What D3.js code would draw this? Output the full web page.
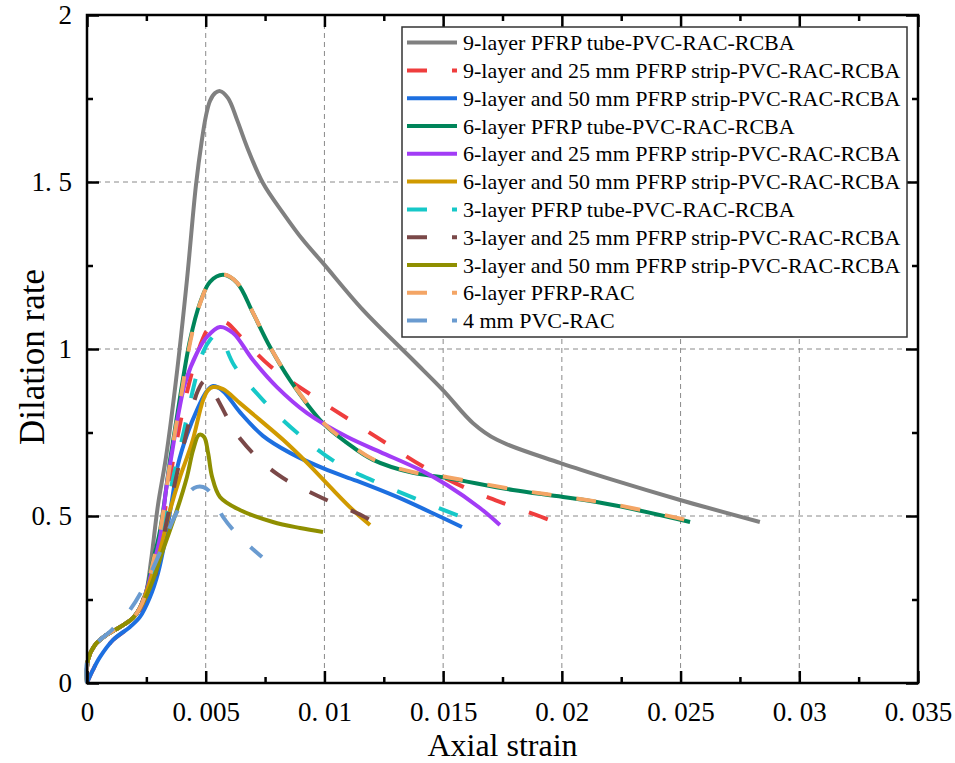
<!DOCTYPE html>
<html>
<head>
<meta charset="utf-8">
<script src="https://cdn.jsdelivr.net/npm/d3@7/dist/d3.min.js"></script>
<style>
  html, body { margin: 0; padding: 0; background: #fff; }
  svg { display: block; }
  text { font-family: "Liberation Serif", "Times New Roman", serif; fill: #000; }
</style>
</head>
<body>
<svg id="chart" width="955" height="763"></svg>
<script>
// Axis ticks and labels
const xTicks = [0, 0.005, 0.01, 0.015, 0.02, 0.025, 0.03, 0.035];
const xTickLabels = ["0", "0. 005", "0. 01", "0. 015", "0. 02", "0. 025", "0. 03", "0. 035"];
const xMinorTicks = [0.0025, 0.0075, 0.0125, 0.0175, 0.0225, 0.0275, 0.0325];
const yTicks = [0, 0.5, 1, 1.5, 2];
const yTickLabels = ["0", "0. 5", "1", "1. 5", "2"];
const yMinorTicks = [0.25, 0.75, 1.25, 1.75];

// Series names (legend order)
const seriesNames = [
  "9-layer PFRP tube-PVC-RAC-RCBA",
  "9-layer and 25 mm PFRP strip-PVC-RAC-RCBA",
  "9-layer and 50 mm PFRP strip-PVC-RAC-RCBA",
  "6-layer PFRP tube-PVC-RAC-RCBA",
  "6-layer and 25 mm PFRP strip-PVC-RAC-RCBA",
  "6-layer and 50 mm PFRP strip-PVC-RAC-RCBA",
  "3-layer PFRP tube-PVC-RAC-RCBA",
  "3-layer and 25 mm PFRP strip-PVC-RAC-RCBA",
  "3-layer and 50 mm PFRP strip-PVC-RAC-RCBA",
  "6-layer PFRP-RAC",
  "4 mm PVC-RAC"
];

// [axial strain, dilation rate]
const tube9 = [[0,0],[0.00004,0.069],[0.00034,0.114],[0.00076,0.141],[0.00118,0.159],[0.0016,0.177],[0.00194,0.195],[0.00223,0.225],[0.00249,0.272],[0.0027,0.368],[0.00299,0.533],[0.00333,0.677],[0.00375,0.907],[0.00421,1.207],[0.00459,1.491],[0.00484,1.626],[0.00501,1.698],[0.00518,1.743],[0.00539,1.766],[0.0056,1.772],[0.00594,1.751],[0.00632,1.686],[0.00674,1.605],[0.00741,1.497],[0.00826,1.407],[0.0091,1.326],[0.00994,1.257],[0.01162,1.117],[0.01373,0.967],[0.01499,0.877],[0.01626,0.778],[0.01727,0.728],[0.01992,0.659],[0.02215,0.608],[0.02498,0.548],[0.02834,0.482]];
const strip9_25 = [[0,0],[0.00025,0.039],[0.00055,0.078],[0.0011,0.129],[0.0016,0.156],[0.00202,0.183],[0.00244,0.234],[0.00274,0.293],[0.00308,0.413],[0.00341,0.578],[0.00371,0.698],[0.00404,0.817],[0.00447,0.943],[0.00489,1.033],[0.00518,1.069],[0.00552,1.084],[0.0059,1.078],[0.00644,1.039],[0.00771,0.949],[0.00939,0.865],[0.01108,0.787],[0.01264,0.716],[0.01419,0.647],[0.01613,0.578],[0.01786,0.53],[0.01967,0.482],[0.02005,0.467]];
const strip9_50 = [[0,0],[0.00025,0.039],[0.00055,0.078],[0.0011,0.129],[0.00181,0.168],[0.00223,0.198],[0.00265,0.257],[0.00299,0.329],[0.00329,0.428],[0.00358,0.548],[0.00383,0.653],[0.00421,0.743],[0.00463,0.817],[0.00505,0.874],[0.00531,0.889],[0.00573,0.874],[0.00644,0.811],[0.00741,0.74],[0.00855,0.689],[0.01011,0.638],[0.01137,0.605],[0.01306,0.557],[0.01445,0.512],[0.01579,0.467]];
const tube6 = [[0,0],[0.00004,0.069],[0.00034,0.114],[0.00076,0.141],[0.00118,0.159],[0.0016,0.177],[0.00194,0.195],[0.00223,0.225],[0.00249,0.272],[0.00274,0.353],[0.00308,0.458],[0.0035,0.668],[0.00392,0.856],[0.00434,1.027],[0.00476,1.138],[0.00518,1.201],[0.00573,1.222],[0.00632,1.198],[0.00699,1.108],[0.00771,1.006],[0.00855,0.907],[0.00994,0.778],[0.01095,0.719],[0.01205,0.668],[0.01373,0.629],[0.01516,0.614],[0.01794,0.578],[0.02005,0.557],[0.02215,0.533],[0.0254,0.482]];
const strip6_25 = [[0,0],[0.00004,0.069],[0.00034,0.114],[0.00076,0.141],[0.00118,0.159],[0.0016,0.177],[0.00194,0.195],[0.00223,0.225],[0.00249,0.272],[0.00274,0.338],[0.00308,0.437],[0.00333,0.578],[0.00362,0.707],[0.00388,0.817],[0.00413,0.898],[0.00463,0.988],[0.00505,1.036],[0.0056,1.066],[0.00615,1.048],[0.00699,0.967],[0.008,0.886],[0.00927,0.808],[0.01095,0.737],[0.01234,0.692],[0.01403,0.638],[0.01516,0.593],[0.01655,0.524],[0.01739,0.473]];
const strip6_50 = [[0,0],[0.00004,0.069],[0.00034,0.114],[0.00076,0.141],[0.00118,0.159],[0.0016,0.177],[0.00194,0.195],[0.00223,0.225],[0.00249,0.27],[0.00274,0.323],[0.00308,0.398],[0.0035,0.518],[0.00392,0.617],[0.00442,0.719],[0.00489,0.847],[0.0051,0.877],[0.00531,0.886],[0.00573,0.88],[0.00644,0.838],[0.00729,0.787],[0.00826,0.728],[0.00927,0.659],[0.01024,0.587],[0.0112,0.518],[0.01192,0.473]];
const tube3 = [[0,0],[0.00004,0.069],[0.00034,0.114],[0.00076,0.141],[0.00118,0.159],[0.0016,0.177],[0.00194,0.195],[0.00223,0.225],[0.00249,0.272],[0.00274,0.314],[0.00308,0.413],[0.0035,0.572],[0.00409,0.757],[0.00451,0.892],[0.00489,0.991],[0.00518,1.027],[0.00543,1.042],[0.00569,1.027],[0.00619,0.952],[0.00741,0.847],[0.00885,0.749],[0.01045,0.662],[0.01226,0.599],[0.01407,0.545],[0.01588,0.494],[0.01626,0.482]];
const strip3_25 = [[0,0],[0.00004,0.069],[0.00034,0.114],[0.00076,0.141],[0.00118,0.159],[0.0016,0.177],[0.00194,0.195],[0.00223,0.225],[0.00249,0.272],[0.00274,0.293],[0.00308,0.389],[0.0035,0.533],[0.00392,0.668],[0.00417,0.743],[0.00447,0.832],[0.00468,0.877],[0.00493,0.904],[0.00514,0.901],[0.00552,0.847],[0.00649,0.728],[0.008,0.626],[0.00973,0.56],[0.01154,0.503],[0.01192,0.488]];
const strip3_50 = [[0,0],[0.00004,0.069],[0.00034,0.114],[0.00076,0.141],[0.00118,0.159],[0.0016,0.177],[0.00194,0.195],[0.00236,0.24],[0.00278,0.308],[0.0032,0.398],[0.00379,0.518],[0.00421,0.617],[0.00447,0.698],[0.00472,0.743],[0.00493,0.737],[0.0051,0.689],[0.00527,0.617],[0.0056,0.557],[0.00644,0.518],[0.00783,0.482],[0.00897,0.464],[0.00994,0.452]];
const pfrpRac6 = [[0,0],[0.00004,0.069],[0.00034,0.114],[0.00076,0.141],[0.00118,0.159],[0.0016,0.177],[0.00194,0.195],[0.00223,0.225],[0.00249,0.272],[0.00276,0.355],[0.0031,0.462],[0.00352,0.668],[0.00396,0.858],[0.00436,1.025],[0.00478,1.14],[0.0052,1.203],[0.00575,1.223],[0.00634,1.197],[0.00701,1.106],[0.00773,1.004],[0.00857,0.906],[0.00996,0.779],[0.01097,0.72],[0.01207,0.669],[0.01375,0.631],[0.01518,0.616],[0.01796,0.58],[0.02007,0.558],[0.02217,0.535],[0.02544,0.485]];
const pvcRac4 = [[0,0],[0,0.063],[0.00034,0.114],[0.00105,0.159],[0.00181,0.219],[0.00244,0.293],[0.00308,0.392],[0.00366,0.494],[0.00417,0.557],[0.00451,0.584],[0.00489,0.587],[0.00518,0.572],[0.00573,0.497],[0.00644,0.437],[0.00737,0.377]];

const seriesData = [tube9, strip9_25, strip9_50, tube6, strip6_25, strip6_50, tube3, strip3_25, strip3_50, pfrpRac6, pvcRac4];

// Line styles per series
const styles = [
  { color: "#808080", dash: null },
  { color: "#ef3d3d", dash: "20,25" },
  { color: "#1d6fe0", dash: null },
  { color: "#00855a", dash: null },
  { color: "#a23cf6", dash: null },
  { color: "#d09a00", dash: null },
  { color: "#16c8c8", dash: "20,25" },
  { color: "#7a4848", dash: "20,25" },
  { color: "#8f8f00", dash: null },
  { color: "#f4a565", dash: "20,25" },
  { color: "#6a9bd0", dash: "20,25" }
];

const svg = d3.select("#chart");
const plot = { left: 87, right: 918, top: 15, bottom: 683 };

const x = d3.scaleLinear().domain([0, 0.035]).range([plot.left, plot.right]);
const y = d3.scaleLinear().domain([0, 2]).range([plot.bottom, plot.top]);

// Dashed grid at the major ticks
const grid = svg.append("g").attr("stroke", "#8a8a8a").attr("stroke-width", 1).attr("stroke-dasharray", "5,4");
grid.selectAll("line.vx").data(xTicks.slice(1, -1)).join("line")
  .attr("x1", d => x(d)).attr("x2", d => x(d))
  .attr("y1", plot.top).attr("y2", plot.bottom);
grid.selectAll("line.hy").data(yTicks.slice(1, -1)).join("line")
  .attr("x1", plot.left).attr("x2", plot.right)
  .attr("y1", d => y(d)).attr("y2", d => y(d));

// Curves
const line = d3.line()
  .x(d => x(d[0]))
  .y(d => y(d[1]))
  .curve(d3.curveCatmullRom.alpha(0.5));

svg.append("g").selectAll("path").data(seriesData).join("path")
  .attr("d", d => line(d))
  .attr("fill", "none")
  .attr("stroke", (d, i) => styles[i].color)
  .attr("stroke-width", 4)
  .attr("stroke-linejoin", "round")
  .attr("stroke-dasharray", (d, i) => styles[i].dash);

// Axes with inward ticks on all four sides
function styleAxis(g) {
  g.select(".domain").remove();
  g.selectAll(".tick line").attr("stroke", "#000").attr("stroke-width", 2.5);
  g.selectAll(".tick text").style("font-family", "'Liberation Serif', serif").style("font-size", "27px").attr("fill", "#000");
}
svg.append("g").attr("transform", `translate(0,${plot.bottom})`)
  .call(d3.axisBottom(x).tickValues(xTicks).tickFormat((d, i) => xTickLabels[i]).tickSizeInner(-12).tickSizeOuter(0).tickPadding(19))
  .call(styleAxis);
svg.append("g").attr("transform", `translate(0,${plot.bottom})`)
  .call(d3.axisBottom(x).tickValues(xMinorTicks).tickFormat("").tickSizeInner(-6).tickSizeOuter(0))
  .call(styleAxis);
svg.append("g").attr("transform", `translate(0,${plot.top})`)
  .call(d3.axisTop(x).tickValues(xTicks).tickFormat("").tickSizeInner(-12).tickSizeOuter(0))
  .call(styleAxis);
svg.append("g").attr("transform", `translate(0,${plot.top})`)
  .call(d3.axisTop(x).tickValues(xMinorTicks).tickFormat("").tickSizeInner(-6).tickSizeOuter(0))
  .call(styleAxis);
svg.append("g").attr("transform", `translate(${plot.left},0)`)
  .call(d3.axisLeft(y).tickValues(yTicks).tickFormat((d, i) => yTickLabels[i]).tickSizeInner(-12).tickSizeOuter(0).tickPadding(15))
  .call(styleAxis);
svg.append("g").attr("transform", `translate(${plot.left},0)`)
  .call(d3.axisLeft(y).tickValues(yMinorTicks).tickFormat("").tickSizeInner(-6).tickSizeOuter(0))
  .call(styleAxis);
svg.append("g").attr("transform", `translate(${plot.right},0)`)
  .call(d3.axisRight(y).tickValues(yTicks).tickFormat("").tickSizeInner(-12).tickSizeOuter(0))
  .call(styleAxis);
svg.append("g").attr("transform", `translate(${plot.right},0)`)
  .call(d3.axisRight(y).tickValues(yMinorTicks).tickFormat("").tickSizeInner(-6).tickSizeOuter(0))
  .call(styleAxis);

// Frame
svg.append("rect")
  .attr("x", plot.left).attr("y", plot.top)
  .attr("width", plot.right - plot.left).attr("height", plot.bottom - plot.top)
  .attr("fill", "none").attr("stroke", "#000").attr("stroke-width", 2.5);

// Axis titles
svg.append("text")
  .attr("x", (plot.left + plot.right) / 2).attr("y", 756)
  .attr("text-anchor", "middle")
  .style("font-size", "32px")
  .text("Axial strain");
svg.append("text")
  .attr("transform", "translate(44,357) rotate(-90)")
  .attr("text-anchor", "middle")
  .style("font-size", "35px")
  .text("Dilation rate");

// Legend
const legend = { x: 402, y: 27, w: 505, h: 310, row0: 42.6, rowStep: 27.8 };
const lg = svg.append("g");
lg.append("rect")
  .attr("x", legend.x).attr("y", legend.y).attr("width", legend.w).attr("height", legend.h)
  .attr("fill", "#fff").attr("stroke", "#333").attr("stroke-width", 1.5);
const rows = lg.selectAll("g.row").data(seriesNames).join("g")
  .attr("transform", (d, i) => `translate(0,${legend.row0 + i * legend.rowStep})`);
rows.append("line")
  .attr("x1", legend.x + 5).attr("x2", legend.x + 55)
  .attr("stroke", (d, i) => styles[i].color)
  .attr("stroke-width", 4)
  .attr("stroke-dasharray", (d, i) => styles[i].dash);
rows.append("text")
  .attr("x", legend.x + 61).attr("y", 0)
  .attr("dominant-baseline", "central")
  .style("font-size", "22px")
  .text(d => d);
</script>
</body>
</html>
